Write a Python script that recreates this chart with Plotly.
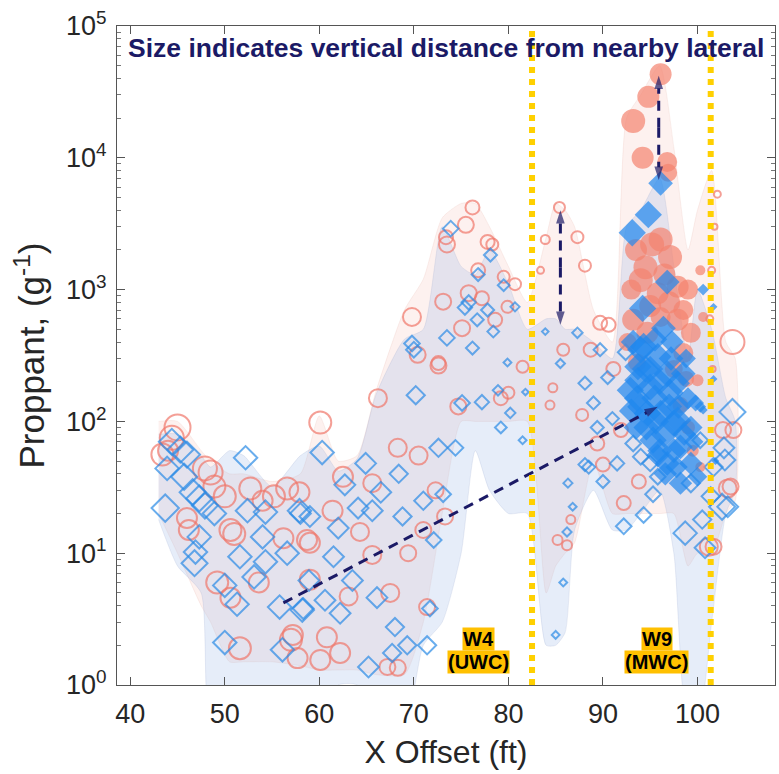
import plotly.graph_objects as go
import math

# ---------------- data ----------------
# red open circles (x ft, proppant, marker size)
red_open_x = [43.4, 44.4, 45.0, 44.0, 47.9, 48.5, 48.9, 46.0, 46.2, 50.6, 51.0, 49.2, 50.6, 51.6, 52.7, 55.2, 56.6, 57.9, 59.0,
              57.0, 57.7, 60.1, 66.2, 72.6, 68.3, 70.5, 62.5, 65.6, 64.3, 72.3, 71.0, 69.4, 65.6, 61.4, 58.7, 56.2, 54.0,
              67.5, 71.4, 57.2, 60.1, 62.2, 60.8, 59.0, 67.2, 68.3, 50.0, 53.6, 63.1, 73.3,
              76.2, 75.5, 73.5, 73.4, 77.8, 78.3, 76.8, 79.5, 80.7, 75.8, 77.2, 73.1, 69.8, 79.9, 75.1, 78.6, 70.4, 72.6,
              81.5, 79.2, 80.0, 74.7,
              83.9, 83.4, 85.4, 87.3, 88.1, 89.7, 90.6, 88.7, 85.8, 91.1, 84.7, 84.4, 87.8, 89.4, 91.9, 85.2, 86.2, 86.6,
              90.0, 92.2, 93.8,
              103.7, 103.2, 102.7, 103.8, 101.2, 101.7, 103.5, 102.1, 101.8, 101.5, 101.3, 101.6]
red_open_y = [56, 75, 90, 60, 44, 41, 32, 18.5, 15, 15, 14, 6, 4.6, 1.9, 31, 27, 31, 29, 12,
              2.2, 1.6, 98, 150, 277, 63, 55, 38, 34, 14.5, 30, 15, 10, 9.7, 21, 12.6, 13, 25,
              5, 3.9, 2.4, 1.55, 1.75, 2.3, 6.3, 1.37, 1.35, 27, 6, 4.7, 19,
              4200, 3100, 2200, 2500, 2300, 2200, 1400, 1250, 1100, 940, 860, 810, 620, 740, 510, 590, 320, 265,
              260, 150, 165, 130,
              2400, 1400, 4200, 2500, 1520, 560, 540, 350, 350, 250, 180, 133, 112, 68, 86, 12.6, 11.5, 18,
              47, 24, 35,
              400, 31, 86, 86, 11.2, 11.2, 32, 5300, 3000, 1400, 600, 250]
red_open_s = [22, 24, 26, 20, 24, 24, 22, 20, 20, 22, 22, 22, 20, 22, 22, 22, 22, 20, 20,
              22, 20, 22, 18, 14, 18, 18, 20, 18, 18, 16, 16, 16, 18, 20, 20, 20, 20,
              18, 16, 20, 20, 20, 20, 20, 16, 16, 22, 20, 18, 16,
              14, 16, 16, 14, 14, 12, 14, 12, 12, 16, 14, 16, 18, 12, 16, 14, 16, 16,
              12, 14, 12, 16,
              9, 7, 11, 12, 12, 14, 14, 14, 12, 14, 9, 9, 12, 14, 14, 10, 10, 9,
              14, 14, 14,
              24, 18, 16, 16, 18, 16, 16, 7, 6, 7, 7, 6]

# red filled circles (W9 cluster)
red_fill_x = [96.1, 94.8, 93.2, 94.2, 96.8, 96.9, 96.1, 97.1, 94.5, 94.0, 95.8, 97.9, 99.0, 93.2, 97.9, 99.3, 98.5,
              94.7, 96.1, 100.3, 100.6, 100.0, 98.2, 99.0, 93.5, 95.2, 96.5, 92.6, 93.6, 98.8, 97.5, 99.5, 100.3,
              95.0, 97.0, 93.0, 98.5]
red_fill_y = [43000, 29000, 19000, 10000, 9300, 7700, 2400, 1770, 1480, 1180, 940, 1050, 1000, 590, 590, 470, 330,
              470, 620, 1400, 620, 205, 133, 90, 2000, 2200, 1300, 400, 280, 210, 250, 60, 45,
              750, 800, 1000, 700]
red_fill_s = [22, 22, 24, 22, 20, 18, 24, 24, 24, 24, 22, 22, 20, 22, 22, 20, 20,
              22, 20, 10, 10, 12, 16, 14, 22, 24, 22, 18, 18, 16, 18, 12, 10,
              22, 22, 20, 20]

# blue open diamonds
blue_open_x = [43.7, 44.4, 45.3, 46.0, 43.9, 45.7, 46.6, 47.3, 47.9, 48.9, 47.3, 46.9, 46.8, 52.2, 52.4, 54.3, 54.0,
               51.6, 51.3, 50.0, 50.0, 53.1, 54.3, 56.6, 55.8, 56.1, 57.9, 58.2, 60.3, 70.2, 72.6, 64.9, 62.7, 68.4,
               66.5, 64.1, 68.8, 71.0, 73.1, 65.6, 62.0, 58.0, 59.0, 72.1, 61.5, 63.5, 58.9, 58.3, 60.6, 62.2, 66.1,
               68.0, 69.3, 71.4, 65.2, 67.7, 71.7, 70.0,
               73.9, 78.1, 76.8, 79.5, 80.7, 75.4, 75.8, 77.8, 76.7, 73.5, 69.8, 78.4, 76.2, 79.9, 75.1, 77.2, 78.9,
               80.2, 79.2, 81.5, 81.8, 74.4,
               83.9, 85.5, 87.3, 89.7, 88.1, 90.5, 89.0, 92.4, 86.3, 86.8, 86.2, 85.8, 85.0, 88.1, 90.0, 92.2, 94.3,
               95.3, 98.7, 100.8, 102.6, 102.9, 100.5, 93.2, 94.0, 95.0, 95.8, 91.5, 88.5, 91.0, 89.4, 103.7, 102.8,
               103.2, 101.7, 101.4, 100.3, 99.3]
blue_open_y = [22, 70, 61, 56, 44, 38, 29, 26, 23, 20, 13.3, 10.2, 8.4, 53, 21, 20.5, 13.3,
               9.4, 4.1, 5.7, 2.1, 6.6, 8.6, 10, 3.9, 1.85, 21, 3.7, 58, 158, 63, 48, 33, 40,
               29, 22, 19, 25, 28, 21, 15.5, 20, 19, 12.6, 9.4, 6.2, 6.2, 3.8, 4.4, 3.5, 4.6,
               2.75, 2.0, 2.0, 1.37, 1.75, 3.8, 350,
               2900, 1830, 1300, 1080, 740, 730, 800, 700, 590, 430, 390, 480, 360, 280, 138, 140, 172,
               116, 90, 72, 167, 63,
               480, 275, 470, 350, 195, 215, 138, 335, 34, 22.5, 14.5, 6, 2.4, 47, 35, 16, 19.5,
               28, 14.2, 11, 22.5, 51, 18, 68, 54, 48, 38, 48, 45, 105, 90, 118, 63,
               22.5, 45, 27, 72, 34]
blue_open_s = [21, 20, 20, 20, 18, 20, 20, 20, 20, 18, 18, 18, 20, 18, 18, 18, 18,
               18, 18, 18, 18, 18, 18, 18, 18, 18, 18, 18, 18, 14, 14, 16, 16, 14,
               16, 16, 14, 14, 12, 16, 16, 16, 16, 12, 16, 16, 16, 16, 16, 16, 16,
               14, 14, 14, 16, 14, 12, 12,
               12, 10, 10, 9, 7, 11, 11, 10, 10, 12, 12, 9, 10, 6, 12, 11, 8,
               8, 9, 6, 5, 12,
               5, 7, 8, 10, 10, 10, 10, 12, 7, 6, 7, 6, 6, 10, 10, 12, 12,
               12, 18, 16, 20, 16, 14, 12, 12, 12, 12, 11, 10, 10, 10, 20, 16,
               16, 14, 14, 12, 14]

# blue filled diamonds (W9 cluster)
blue_fill_x = [96.1, 94.8, 93.1, 96.8, 94.2, 96.4, 94.3, 93.7, 95.8, 96.8, 98.5, 92.9, 95.0, 97.1, 94.0, 96.1, 97.9,
               99.3, 100.3, 100.6, 101.7, 94.0, 93.7, 97.9, 94.7, 97.5, 95.3, 98.2, 99.3, 96.8, 100.0, 98.2, 99.8,
               100.6, 93.5, 95.5, 96.5, 97.5, 94.5, 95.5, 97.3, 98.8, 101.7, 101.9,
               93.0, 93.6, 94.6, 95.6, 96.0, 96.6, 97.0, 98.0, 98.6, 99.0, 99.6, 97.2, 96.0, 95.0, 93.2, 95.8, 97.8]
blue_fill_y = [6400, 3700, 2700, 1140, 720, 510, 370, 260, 310, 230, 230, 172, 182, 165, 129, 115, 102,
               90, 129, 1000, 740, 350, 205, 195, 115, 97, 72, 64, 48, 48, 38, 34, 138,
               122, 90, 150, 80, 60, 250, 420, 400, 300, 210, 50,
               120, 150, 90, 100, 60, 40, 130, 130, 80, 150, 70, 300, 200, 250, 400, 55, 45]
blue_fill_s = [19, 21, 21, 19, 21, 19, 21, 21, 21, 21, 19, 21, 21, 21, 21, 21, 21,
               18, 9, 9, 6, 21, 21, 19, 21, 21, 21, 19, 18, 19, 15, 18, 13,
               7, 19, 21, 21, 19, 21, 19, 18, 15, 6, 6,
               19, 20, 20, 20, 19, 18, 20, 19, 18, 17, 15, 19, 20, 20, 19, 18, 17]

# envelope bands
band_x = [43, 45, 47.5, 48.5, 50.5, 52, 55, 58, 60, 62, 64, 66, 69, 71, 73, 75, 76.5, 78, 80, 82, 84, 85, 86, 87,
          89, 91, 92.5, 94, 96, 97.5, 99, 100, 101.5, 103, 104]
blue_hi = [80, 80, 55, 45, 60, 55, 32, 55, 65, 42, 52, 160, 420, 500, 3000, 1500, 1300, 2000, 1100, 500, 600, 600,
           500, 500, 400, 300, 3000, 4000, 7000, 1500, 300, 1000, 500, 150, 100]
blue_lo = [18, 8, 5, 0.5, 0.5, 0.5, 0.5, 0.5, 0.5, 1.0, 1.0, 0.5, 0.5, 2, 3, 10, 60, 30, 20, 20, 2, 2, 2.5, 15,
           30, 15, 15, 20, 30, 10, 0.5, 0.5, 3, 20, 30]
red_hi = [100, 100, 60, 50, 40, 40, 35, 40, 110, 50, 55, 170, 700, 1200, 3500, 4500, 4500, 3000, 1500, 800, 2500,
          4500, 4000, 3000, 700, 400, 20000, 30000, 50000, 12000, 2000, 4000, 8000, 400, 300]
red_lo = [20, 10, 4, 3, 1.5, 1.5, 1.5, 1.4, 1.3, 1.3, 1.3, 1.2, 1.2, 3, 20, 100, 100, 100, 100, 100, 5, 8, 10, 12,
          50, 20, 20, 20, 20, 20, 8, 10, 10, 20, 25]

# guide arrows
diag_x = [56.2, 95.8]
diag_y = [4.2, 129]
varrow1_x = [85.5, 85.5]
varrow1_y = [4000, 540]
varrow2_x = [95.9, 95.9]
varrow2_y = [42000, 6800]

well_x = [82.5, 101.4]
well_labels = [("W4", "(UWC)", 76.8), ("W9", "(MWC)", 95.7)]

FONT = "Liberation Sans, Arial, Helvetica, sans-serif"
NAVY = "#1b1a66"

fig = go.Figure()

# bands
fig.add_trace(go.Scatter(x=band_x + band_x[::-1], y=red_hi + red_lo[::-1], fill="toself",
                         fillcolor="rgba(245,170,158,0.16)", line=dict(width=0.5, color="rgba(230,180,170,0.4)", shape="spline", smoothing=0.6),
                         mode="lines", hoverinfo="skip", showlegend=False))
fig.add_trace(go.Scatter(x=band_x + band_x[::-1], y=blue_hi + blue_lo[::-1], fill="toself",
                         fillcolor="rgba(150,178,232,0.24)", line=dict(width=0.5, color="rgba(150,165,205,0.4)", shape="spline", smoothing=0.6),
                         mode="lines", hoverinfo="skip", showlegend=False))

RED = "#f0766a"
BLUE = "#2a8ae6"

fig.add_trace(go.Scatter(x=red_open_x, y=red_open_y, mode="markers", showlegend=False,
                         marker=dict(symbol="circle-open", size=red_open_s, color=RED, line=dict(width=2, color=RED))))
fig.add_trace(go.Scatter(x=blue_open_x, y=blue_open_y, mode="markers", showlegend=False,
                         marker=dict(symbol="diamond-open", size=blue_open_s, color=BLUE, line=dict(width=2, color=BLUE))))
fig.add_trace(go.Scatter(x=red_fill_x, y=red_fill_y, mode="markers", showlegend=False,
                         marker=dict(symbol="circle", size=red_fill_s, color="#f4836f", line=dict(width=0))))
fig.add_trace(go.Scatter(x=blue_fill_x, y=blue_fill_y, mode="markers", showlegend=False,
                         marker=dict(symbol="diamond", size=blue_fill_s, color="#1f88ee", line=dict(width=0))))


def arrow_trace(xs, ys):
    fig.add_trace(go.Scatter(x=xs, y=ys, mode="lines+markers", showlegend=False, hoverinfo="skip",
                             line=dict(color=NAVY, width=3, dash="10px,7px"),
                             marker=dict(symbol=["circle", "arrow"], size=[0, 14], color=NAVY,
                                         angleref="previous", line=dict(width=0))))


arrow_trace(diag_x, diag_y)
for vx, vy in [(varrow1_x, varrow1_y), (varrow2_x, varrow2_y)]:
    mid = math.sqrt(vy[0] * vy[1])
    arrow_trace([vx[0], vx[0]], [mid, vy[0]])
    arrow_trace([vx[1], vx[1]], [mid, vy[1]])

# well lines
for wx in well_x:
    fig.add_shape(type="line", x0=wx, x1=wx, y0=0, y1=1, xref="x", yref="paper",
                  line=dict(color="#ffd000", width=6, dash="6px,6px"))

for top, bot, lx in well_labels:
    fig.add_annotation(x=lx, y=0.051, xref="x", yref="paper", text="<b>%s</b>" % top, showarrow=False,
                       font=dict(family=FONT, size=20, color="black"), bgcolor="#ffc000", borderpad=0)
    fig.add_annotation(x=lx, y=0.017, xref="x", yref="paper", text="<b>%s</b>" % bot, showarrow=False,
                       font=dict(family=FONT, size=20, color="black"), bgcolor="#ffc000", borderpad=0)

fig.add_annotation(x=0.5, y=0.966, xref="paper", yref="paper", text="<b>Size indicates vertical distance from nearby lateral</b>",
                   showarrow=False, font=dict(family=FONT, size=26.5, color=NAVY), yanchor="middle")

minor_vals = [m * 10 ** d for d in range(0, 5) for m in range(2, 10)]

fig.update_layout(
    width=779, height=774,
    margin=dict(l=117, r=4, t=26, b=89),
    paper_bgcolor="white", plot_bgcolor="white",
    font=dict(family=FONT, color="#262626"),
    xaxis=dict(range=[38.6, 108.2], tickvals=[40, 50, 60, 70, 80, 90, 100], ticks="inside", ticklen=8,
               tickcolor="#555555", showline=True, linecolor="#555555", linewidth=1, mirror="ticks",
               showgrid=False, zeroline=False, tickfont=dict(size=27, color="#262626"), automargin=False,
               ticklabelstandoff=5,
               title=dict(text="X Offset (ft)", font=dict(size=32, color="#262626"), standoff=12)),
    yaxis=dict(type="log", range=[0, 5], tickvals=[1, 10, 100, 1000, 10000, 100000],
               ticktext=["10<sup>%d</sup>" % i for i in range(6)], ticks="inside", ticklen=8,
               tickcolor="#555555", showline=True, linecolor="#555555", linewidth=1, mirror="ticks",
               showgrid=False, zeroline=False, tickfont=dict(size=27, color="#262626"), automargin=False,
               ticklabelstandoff=4,
               minor=dict(tickvals=minor_vals, ticks="inside", ticklen=4, tickcolor="#777777"),
               title=dict(text="Proppant, (g<sup>-1</sup>)", font=dict(size=35, color="#262626"), standoff=10)),
)

fig.write_html("out.html", config={"displayModeBar": False},
               post_script="document.body.style.margin='0';document.body.style.padding='0';")
